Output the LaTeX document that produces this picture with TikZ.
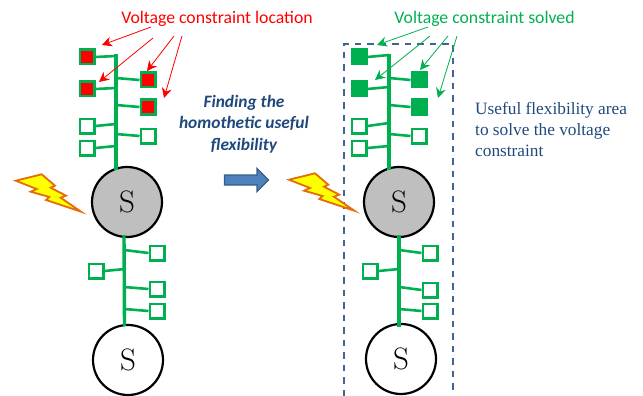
\documentclass[tikz,border=0pt]{standalone}
\usepackage{fontspec}
\newfontfamily\calibrifont{Carlito}
\newfontfamily\cambriafont{Liberation Serif}
\usetikzlibrary{arrows.meta}
\definecolor{figred}{RGB}{255,0,0}
\definecolor{figgreen}{RGB}{0,176,80}
\definecolor{figgrey}{RGB}{191,191,191}
\definecolor{fignavy}{RGB}{31,73,125}
\definecolor{figblue}{RGB}{79,129,189}
\definecolor{figedge}{RGB}{56,93,138}
\definecolor{figorange}{RGB}{228,108,10}
\definecolor{figyellow}{RGB}{255,255,0}
\tikzset{
  trunk/.style={draw=figgreen,line width=3.4pt},
  branch/.style={draw=figgreen,line width=2.6pt},
  load/.style={draw=figgreen,line width=2.5pt,fill=white,minimum size=14.5pt,inner sep=0pt},
  redload/.style={load,fill=figred},
  solved/.style={load,fill=figgreen},
  source/.style={circle,draw=black,line width=2.2pt,fill=white,minimum size=70pt,inner sep=0pt,
                 font=\fontsize{31}{33}\selectfont},
  hitsource/.style={source,fill=figgrey},
  redln/.style={-{Stealth[length=10pt,width=10pt]},draw=figred,line width=0.8pt},
  greenln/.style={-{Stealth[length=10pt,width=10pt]},draw=figgreen,line width=0.8pt},
  bolt/.style={draw=figorange,line width=1.8pt,fill=figyellow,line join=miter},
  lbl/.style={font=\calibrifont\fontsize{17.7}{20}\selectfont,inner sep=0pt},
  note/.style={font=\cambriafont\fontsize{17.3}{21}\selectfont,text=fignavy,align=left,inner sep=0pt},
  stepnote/.style={font=\calibrifont\bfseries\itshape\fontsize{17.4}{21.5}\selectfont,text=fignavy,
                   align=center,inner sep=0pt},
}
\def\boltpath{(15.7,180.7) -- (41.7,174.3) -- (55,185.7) -- (50.7,187.7) -- (66,195.7)
  -- (60.7,197.7) -- (81,211.7) -- (46,200) -- (49.3,197) -- (30.7,191.7) -- (36.7,189) -- cycle}
\begin{document}
\begin{tikzpicture}[x=1pt,y=-1pt]
\useasboundingbox (0,0) rectangle (643,396);

% =======================  LEFT: before  =====================
\node[lbl,text=figred] (redlbl) at (217,19) {Voltage constraint location};
\node[hitsource] (s1) at (127,202) {S};
\node[source] (s2) at (128,360) {S};
\coordinate (top1) at (116,54);
\coordinate (mid1) at (124,235);
\draw[trunk] (top1) -- (116,170);
\draw[trunk] (mid1) -- (124.5,326);

\node[redload] (a1) at (87,57)  {};
\node[redload] (a2) at (87,89)  {};
\node[redload] (a3) at (148,80) {};
\node[redload] (a4) at (148,107) {};
\node[load] (a5) at (87,126)  {};
\node[load] (a6) at (87,148)  {};
\node[load] (a7) at (148,136) {};
\coordinate (ta1) at (116,56);
\coordinate (ta2) at (116,88);
\coordinate (ta3) at (116,78);
\coordinate (ta4) at (116,105);
\coordinate (ta5) at (116,124);
\coordinate (ta6) at (116,146);
\coordinate (ta7) at (116,134);
\draw[branch] (a1.east) -- (ta1);
\draw[branch] (a2.east) -- (ta2);
\draw[branch] (a3.west) -- (ta3);
\draw[branch] (a4.west) -- (ta4);
\draw[branch] (a5.east) -- (ta5);
\draw[branch] (a6.east) -- (ta6);
\draw[branch] (a7.west) -- (ta7);

\node[load] (b1) at (157,253) {};
\node[load] (b2) at (96,271)  {};
\node[load] (b3) at (157,289) {};
\node[load] (b4) at (157,311) {};
\coordinate (tb1) at (124,250);
\coordinate (tb2) at (125,269);
\coordinate (tb3) at (124,287);
\coordinate (tb4) at (124,309);
\draw[branch] (b1.west) -- (tb1);
\draw[branch] (b2.east) -- (tb2);
\draw[branch] (b3.west) -- (tb3);
\draw[branch] (b4.west) -- (tb4);

\coordinate (r1) at (151,27);
\coordinate (r2) at (153,38);
\coordinate (r3) at (174,36);
\coordinate (r4) at (182,36);
\coordinate (p1) at (102,45);
\coordinate (p2) at (99,82);
\coordinate (p3) at (147,71);
\coordinate (p4) at (164,98);
\draw[redln] (r1) -- (p1);
\draw[redln] (r2) -- (p2);
\draw[redln] (r3) -- (p3);
\draw[redln] (r4) -- (p4);

\path[bolt] \boltpath;

% =======================  MIDDLE  ====================
\node[stepnote] (find) at (244,124) {Finding the\\homothetic useful\\flexibility};
\draw[figedge,line width=1.2pt,fill=figblue] (224.5,175) -- (257,175) -- (257,168.5) -- (268.5,180)
  -- (257,191.5) -- (257,185) -- (224.5,185) -- cycle;

% =======================  RIGHT: after  =====================
\node[lbl,text=figgreen] (greenlbl) at (484.5,19) {Voltage constraint solved};
\node[note,anchor=west] (area) at (475,129) {Useful flexibility area\\to solve the voltage\\constraint};

\coordinate (c1) at (344,396);
\coordinate (c2) at (344,44);
\coordinate (c3) at (453,44);
\coordinate (c4) at (453,396);
\draw[fignavy!85,line width=1.4pt,dash pattern=on 6.5pt off 6pt] (c1) -- (c2) -- (c3) -- (c4);

\node[hitsource] (s3) at (399,202) {S};
\node[source] (s4) at (401,359) {S};
\coordinate (top2) at (389,54);
\coordinate (mid2) at (399,235);
\draw[trunk] (top2) -- (389,170);
\draw[trunk] (mid2) -- (399,327);

\node[solved] (d1) at (359,57)  {};
\node[solved] (d2) at (359,89)  {};
\node[solved] (d3) at (419,80)  {};
\node[solved] (d4) at (419,107) {};
\node[load] (d5) at (359,126) {};
\node[load] (d6) at (359,148) {};
\node[load] (d7) at (419,136) {};
\coordinate (td1) at (389,55);
\coordinate (td2) at (389,87);
\coordinate (td3) at (389,78);
\coordinate (td4) at (389,105);
\coordinate (td5) at (389,123);
\coordinate (td6) at (389,146);
\coordinate (td7) at (389,134);
\draw[branch] (d1.east) -- (td1);
\draw[branch] (d2.east) -- (td2);
\draw[branch] (d3.west) -- (td3);
\draw[branch] (d4.west) -- (td4);
\draw[branch] (d5.east) -- (td5);
\draw[branch] (d6.east) -- (td6);
\draw[branch] (d7.west) -- (td7);

\node[load] (e1) at (430,253) {};
\node[load] (e2) at (370,271) {};
\node[load] (e3) at (430,290) {};
\node[load] (e4) at (430,311) {};
\coordinate (te1) at (399,250);
\coordinate (te2) at (399,269);
\coordinate (te3) at (399,287);
\coordinate (te4) at (399,309);
\draw[branch] (e1.west) -- (te1);
\draw[branch] (e2.east) -- (te2);
\draw[branch] (e3.west) -- (te3);
\draw[branch] (e4.west) -- (te4);

\coordinate (g1) at (428,27);
\coordinate (g2) at (430,36);
\coordinate (g3) at (448,36);
\coordinate (g4) at (457,36);
\coordinate (q1) at (377,45);
\coordinate (q2) at (375,80);
\coordinate (q3) at (420,70);
\coordinate (q4) at (438,98);
\draw[greenln] (g1) -- (q1);
\draw[greenln] (g2) -- (q2);
\draw[greenln] (g3) -- (q3);
\draw[greenln] (g4) -- (q4);

\begin{scope}[shift={(273.3,-1)}]
  \path[bolt] \boltpath;
\end{scope}

\end{tikzpicture}
\end{document}
